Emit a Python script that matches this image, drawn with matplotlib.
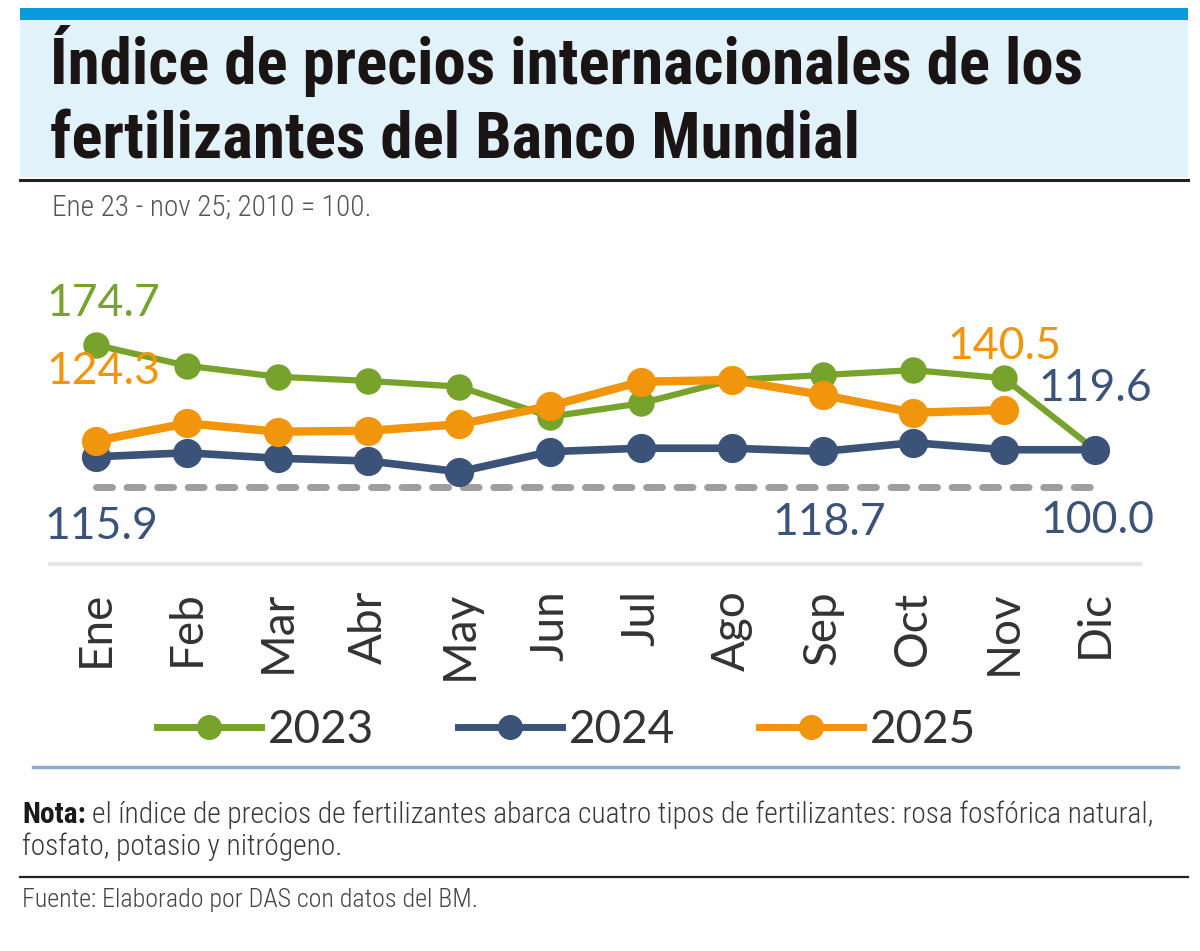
import matplotlib
matplotlib.use("Agg")
import matplotlib.pyplot as plt
from matplotlib.lines import Line2D
from matplotlib.patches import Rectangle

# datos (indice 2010 = 100)
meses = ["Ene", "Feb", "Mar", "Abr", "May", "Jun", "Jul", "Ago", "Sep", "Oct", "Nov", "Dic"]
v2023 = [174.7, 163.8, 158.0, 155.8, 152.8, 137.0, 144.0, 156.3, 158.9, 161.5, 157.2, 119.6]
v2024 = [115.9, 118.0, 115.1, 113.7, 108.0, 118.6, 120.4, 120.4, 118.7, 123.3, 119.6, 119.6]
v2025 = [124.3, 133.5, 129.1, 129.6, 133.0, 142.6, 155.4, 156.3, 148.4, 139.1, 140.5]
base = 100.0

verde = "#77a22c"
azul = "#3b5378"
naranja = "#f0950c"
gris = "#9e9e9e"

W, H = 1200, 951
fig = plt.figure(figsize=(W / 100, H / 100), dpi=100)
renderer = fig.canvas.get_renderer()


def fx(x):
    return x / W


def fy(y):
    return 1 - y / H


def ancho(t):
    return t.get_window_extent(renderer).width


def ajustar(t, objetivo):
    # escala el tamano de letra para que el texto ocupe el ancho del original
    for _ in range(2):
        t.set_fontsize(t.get_fontsize() * objetivo / ancho(t))


narrow = ["Roboto Condensed", "Liberation Sans Narrow", "Roboto", "DejaVu Sans"]
geo = ["Lato", "DejaVu Sans"]

# cabecera
fig.patches.append(Rectangle((fx(20), fy(20)), fx(1188) - fx(20), fy(8) - fy(20),
                             transform=fig.transFigure, color="#0a9ade", lw=0))
fig.patches.append(Rectangle((fx(20), fy(177)), fx(1188) - fx(20), fy(20) - fy(177),
                             transform=fig.transFigure, color="#e1f2fb", lw=0))
fig.lines.append(Line2D([fx(20), fx(1188)], [fy(180), fy(180)], transform=fig.transFigure,
                        color="#222222", lw=2.2))
t1 = fig.text(fx(50), fy(84), "Índice de precios internacionales de los", family=narrow,
              weight="heavy", fontsize=40, color="#1a1414", va="baseline")
t2 = fig.text(fx(50), fy(158), "fertilizantes del Banco Mundial", family=narrow,
              weight="heavy", fontsize=40, color="#1a1414", va="baseline")
ajustar(t1, 1032)
t2.set_fontsize(t1.get_fontsize())
sub = fig.text(fx(52), fy(216), "Ene 23 - nov 25; 2010 = 100.", family=narrow,
               weight="light", fontsize=18, color="#555555", va="baseline")
ajustar(sub, 320)

# grafico
ax = fig.add_axes([fx(41.5), fy(564), fx(1149.5) - fx(41.5), fy(270) - fy(564)])
ax.set_xlim(-0.6, 11.6)
ax.set_ylim(59.5, 214.15)
for s in ax.spines.values():
    s.set_visible(False)
ax.set_yticks([])

x = list(range(len(meses)))
ax.hlines(base, 0, 11, colors=gris, lw=5, linestyles=(0, (2.3, 2.1)), capstyle="round", zorder=1)
ax.plot(x, v2023, color=verde, lw=4.5, marker="o", ms=18, zorder=2)
ax.plot(x, v2024, color=azul, lw=5.5, marker="o", ms=20, zorder=3)
ax.plot(x[:len(v2025)], v2025, color=naranja, lw=6, marker="o", ms=20, zorder=4)

ax.set_xticks(x)
ax.set_xticklabels(meses, rotation=90, family=geo, fontsize=33, color="#333333")
ax.tick_params(axis="x", length=0, pad=19)

# etiquetas de valores
etiquetas = [
    ("174.7", 0, v2023[0], (5, 30), verde),
    ("124.3", 0, v2025[0], (5, 50), naranja),
    ("115.9", 0, v2024[0], (4, -50), azul),
    ("118.7", 8, v2024[8], (5, -51), azul),
    ("100.0", 11, base, (1.5, -24), azul),
    ("140.5", 10, v2025[10], (0, 46), naranja),
    ("119.6", 11, v2024[11], (0, 44), azul),
]
for txt, i, v, off, c in etiquetas:
    ax.annotate(txt, (i, v), xytext=off, textcoords="offset points", ha="center",
                va="center", family=geo, fontsize=32, color=c)

fig.lines.append(Line2D([fx(50), fx(1140)], [fy(564), fy(564)], transform=fig.transFigure,
                        color="#e6e6e6", lw=3))

# leyenda
handles = [Line2D([], [], color=c, lw=5, marker="o", ms=17) for c in (verde, azul, naranja)]
fig.legend(handles, ["2023", "2024", "2025"], loc="center", ncol=3,
           bbox_to_anchor=(fx(567), fy(730)), frameon=False, borderpad=0,
           handlelength=2.25, handletextpad=0.17, columnspacing=1.83,
           prop={"family": geo, "size": 33}, labelcolor="#333333")

# pie
fig.lines.append(Line2D([fx(33), fx(1178)], [fy(767), fy(767)], transform=fig.transFigure,
                        color="#8aaed0", lw=2.5))
nota = fig.text(fx(22), fy(823), "Nota:", family=narrow, weight="bold", fontsize=20,
                color="#1a1a1a", va="baseline")
resto = fig.text(fx(80), fy(823),
                 "el índice de precios de fertilizantes abarca cuatro tipos de fertilizantes: rosa fosfórica natural,",
                 family=narrow, weight="light", fontsize=20, color="#3a3a3a", va="baseline")
for _ in range(2):
    total = ancho(nota) + 6 + ancho(resto)
    f = (1128 - 6) / (total - 6)
    nota.set_fontsize(nota.get_fontsize() * f)
    resto.set_fontsize(resto.get_fontsize() * f)
    resto.set_x(fx(nota.get_window_extent(renderer).x1 + 6))
fig.text(fx(22), fy(855), "fosfato, potasio y nitrógeno.", family=narrow, weight="light",
         fontsize=resto.get_fontsize(), color="#3a3a3a", va="baseline")
fig.lines.append(Line2D([fx(20), fx(1188)], [fy(877), fy(877)], transform=fig.transFigure,
                        color="#222222", lw=1.6))
fuente = fig.text(fx(22), fy(907), "Fuente: Elaborado por DAS con datos del BM.", family=narrow,
                  weight="light", fontsize=19, color="#444444", va="baseline")
ajustar(fuente, 456)

fig.savefig("out.png", dpi=100)
